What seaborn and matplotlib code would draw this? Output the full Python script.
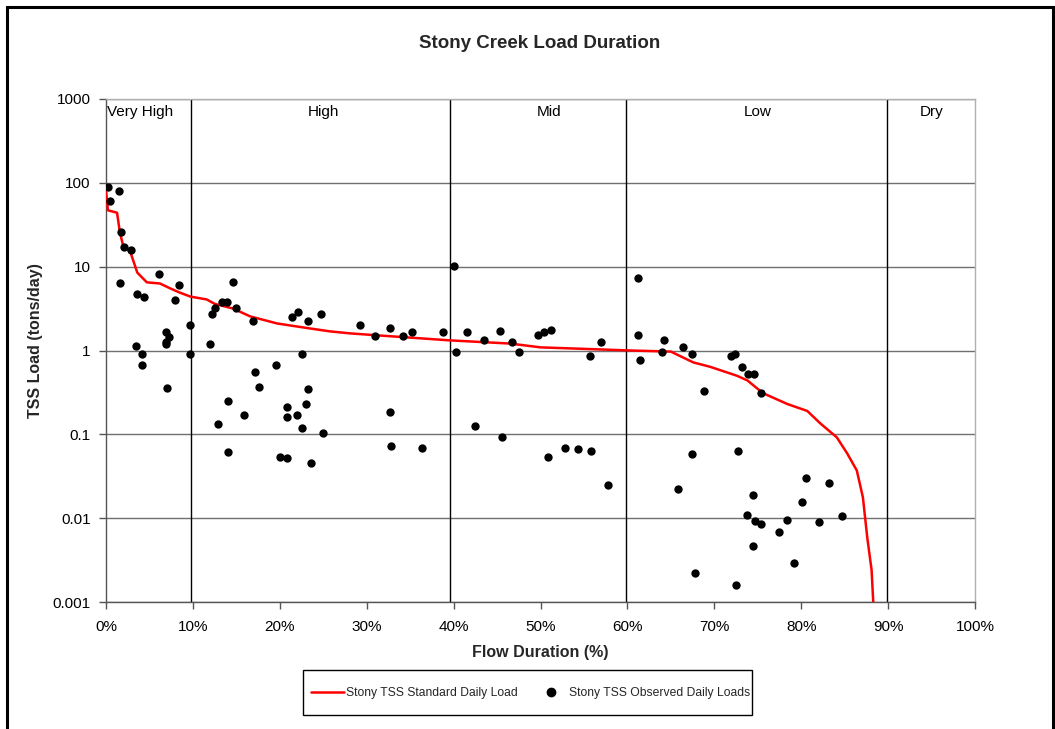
import matplotlib
matplotlib.use("Agg")
import matplotlib.pyplot as plt
import matplotlib.patches as mpatches
from matplotlib.lines import Line2D
import seaborn as sns
import pandas as pd

# Standard daily load curve (flow duration %, tons/day)
curve_pct = [0.0, 0.23, 1.27, 1.6, 1.96, 2.8, 3.6, 4.7, 6.2, 7.4, 8.5, 9.7,
             11.6, 12.5, 14.6, 16.6, 19.7, 23.5, 25.8, 28.1, 31.5, 39.6, 46.5,
             50.0, 54.5, 60.4, 65.0, 67.6, 69.5, 72.6, 73.8, 75.6, 78.4, 80.7,
             82.2, 84.1, 85.3, 86.4, 87.1, 87.6, 88.1, 88.3]
curve_load = [80, 47, 44, 25.6, 18, 15, 8.5, 6.5, 6.3, 5.5, 4.9, 4.4,
              4.06, 3.6, 3.17, 2.55, 2.1, 1.83, 1.69, 1.6, 1.51, 1.32, 1.21,
              1.09, 1.05, 1.0, 0.97, 0.72, 0.64, 0.5, 0.44, 0.31, 0.23, 0.19,
              0.135, 0.092, 0.059, 0.037, 0.0177, 0.0059, 0.0024, 0.00096]

# Observed daily loads
obs_pct = [0.23, 0.46, 1.5, 1.7, 2.1, 2.9, 1.6, 3.6, 4.4, 6.1, 8.4, 7.9,
           9.7, 6.9, 7.2, 6.9, 6.9, 3.5, 4.1, 4.1, 9.7, 7.0,
           12.0, 12.2, 12.6, 13.3, 13.9, 14.6, 15.0, 16.9, 17.1, 17.6, 19.6,
           21.4, 22.1, 23.3, 24.7, 22.5, 23.3,
           12.9, 14.0, 14.0, 15.9, 20.0, 20.8, 20.8, 20.8, 22.0, 22.5, 23.0,
           23.6, 25.0,
           29.2, 31.0, 32.7, 34.2, 35.2, 38.8, 40.0, 40.3, 41.5, 43.5, 45.3,
           46.7, 47.5, 49.7, 50.4, 51.2, 55.7, 57.0,
           32.7, 32.8, 36.4, 42.5, 45.6, 50.9, 52.8, 54.3, 55.8, 57.8,
           61.2, 61.2, 61.4, 64.2, 64.0, 66.4, 67.4, 68.8, 71.9, 72.4, 73.2,
           73.9, 74.6, 75.4,
           67.4, 72.7, 65.8, 74.5, 73.8, 74.7, 75.4, 74.5, 77.5, 78.4, 80.1,
           80.5, 82.0, 83.2, 84.7, 67.8, 72.5, 79.2]
obs_load = [88, 60, 79, 25.6, 17.4, 16, 6.3, 4.66, 4.3, 8.07, 6.1, 3.95,
            2.04, 1.64, 1.43, 1.28, 1.18, 1.12, 0.9, 0.68, 0.9, 0.36,
            1.18, 2.76, 3.2, 3.84, 3.84, 6.6, 3.2, 2.27, 0.55, 0.37, 0.68,
            2.54, 2.9, 2.22, 2.69, 0.92, 0.35,
            0.134, 0.25, 0.062, 0.17, 0.054, 0.052, 0.21, 0.16, 0.17, 0.12, 0.23,
            0.045, 0.105,
            1.99, 1.47, 1.88, 1.47, 1.64, 1.64, 10.3, 0.97, 1.64, 1.32, 1.69,
            1.28, 0.95, 1.55, 1.68, 1.78, 0.87, 1.28,
            0.187, 0.073, 0.069, 0.127, 0.092, 0.054, 0.068, 0.066, 0.064, 0.025,
            7.4, 1.51, 0.78, 1.35, 0.95, 1.09, 0.9, 0.33, 0.87, 0.92, 0.63,
            0.53, 0.52, 0.31,
            0.059, 0.064, 0.0225, 0.019, 0.011, 0.0092, 0.0085, 0.0047, 0.0069,
            0.0094, 0.0158, 0.030, 0.0089, 0.0266, 0.0105, 0.0022, 0.0016, 0.0029]

# Flow regime boundaries and labels
regime_bounds = [9.8, 39.6, 59.8, 89.9]
regime_names = ["Very High", "High", "Mid", "Low", "Dry"]
regime_pos = [0.1, 25, 51, 75, 95]

x_ticks = [0, 10, 20, 30, 40, 50, 60, 70, 80, 90, 100]
y_ticks = [0.001, 0.01, 0.1, 1, 10, 100, 1000]
y_labels = ["0.001", "0.01", "0.1", "1", "10", "100", "1000"]

sns.set_theme(style="white")
plt.rcParams["font.family"] = ["Liberation Sans", "DejaVu Sans"]

curve_df = pd.DataFrame({"pct": curve_pct, "load": curve_load})
obs_df = pd.DataFrame({"pct": obs_pct, "load": obs_load})

W, H = 1055, 729
fig = plt.figure(figsize=(W / 100, H / 100), dpi=100)
ax = fig.add_axes([106 / W, 1 - 602 / H, (975 - 106) / W, (602 - 99) / H])

ax.set_yscale("log")
ax.set_xlim(0, 100)
ax.set_ylim(0.001, 1000)

for yv in y_ticks:
    ax.axhline(yv, color="#707070", lw=1.0, zorder=1)
for xv in regime_bounds:
    ax.axvline(xv, color="black", lw=1.0, zorder=1)

sns.lineplot(data=curve_df, x="pct", y="load", ax=ax, color="#ff0000",
             lw=1.8, zorder=3, sort=False, estimator=None)
sns.scatterplot(data=obs_df, x="pct", y="load", ax=ax, color="black",
                s=36, edgecolor="black", linewidth=0, zorder=4)

for name, pos in zip(regime_names, regime_pos):
    ax.text(pos, 0.974, name, transform=ax.get_xaxis_transform(),
            ha="left" if name == "Very High" else "center", va="center",
            fontsize=11, color="black")

ax.set_xticks(x_ticks)
ax.set_xticklabels([f"{t}%" for t in x_ticks])
ax.set_yticks(y_ticks)
ax.set_yticklabels(y_labels)
ax.minorticks_off()
ax.tick_params(axis="both", which="major", direction="out", length=5,
               width=1, color="#555555", labelsize=11, labelcolor="black",
               bottom=True, left=True)
ax.tick_params(axis="x", pad=8)
ax.tick_params(axis="y", pad=6)

for side in ["top", "right"]:
    ax.spines[side].set_visible(True)
    ax.spines[side].set_color("#b0b0b0")
    ax.spines[side].set_linewidth(1.0)
for side in ["left", "bottom"]:
    ax.spines[side].set_color("#555555")
    ax.spines[side].set_linewidth(1.0)

ax.set_xlabel("Flow Duration (%)", fontsize=11.5, fontweight="bold", labelpad=8)
ax.set_ylabel("TSS Load (tons/day)", fontsize=11.5, fontweight="bold")
ax.yaxis.set_label_coords(-0.072, 0.52)

fig.text(540 / W, 1 - 44 / H, "Stony Creek Load Duration",
         ha="center", va="center", fontsize=13.5, fontweight="bold")

# Legend entries without frame, boxed by a separate rectangle
handles = [
    Line2D([0], [0], color="#ff0000", lw=1.8),
    Line2D([0], [0], marker="o", color="black", lw=0, markersize=6),
]
labels = ["Stony TSS Standard Daily Load", "Stony TSS Observed Daily Loads"]
fig.legend(handles, labels, loc="center",
           bbox_to_anchor=(530.5 / W, 1 - 693 / H), ncol=2,
           fontsize=8.7, frameon=False, borderpad=0, borderaxespad=0,
           handlelength=2.75, handletextpad=0.15, columnspacing=1.4)
legend_box = mpatches.Rectangle((303 / W, 1 - 715 / H), (752 - 303) / W, 45 / H,
                                transform=fig.transFigure, fill=False,
                                edgecolor="black", lw=1.0)
fig.patches.append(legend_box)

border = mpatches.Rectangle((7 / W, -0.05), (1053 - 7) / W, 1.05 - 7 / H,
                            transform=fig.transFigure, fill=False,
                            edgecolor="black", lw=2.2, clip_on=False)
fig.patches.append(border)

fig.savefig("out.png", dpi=100)
